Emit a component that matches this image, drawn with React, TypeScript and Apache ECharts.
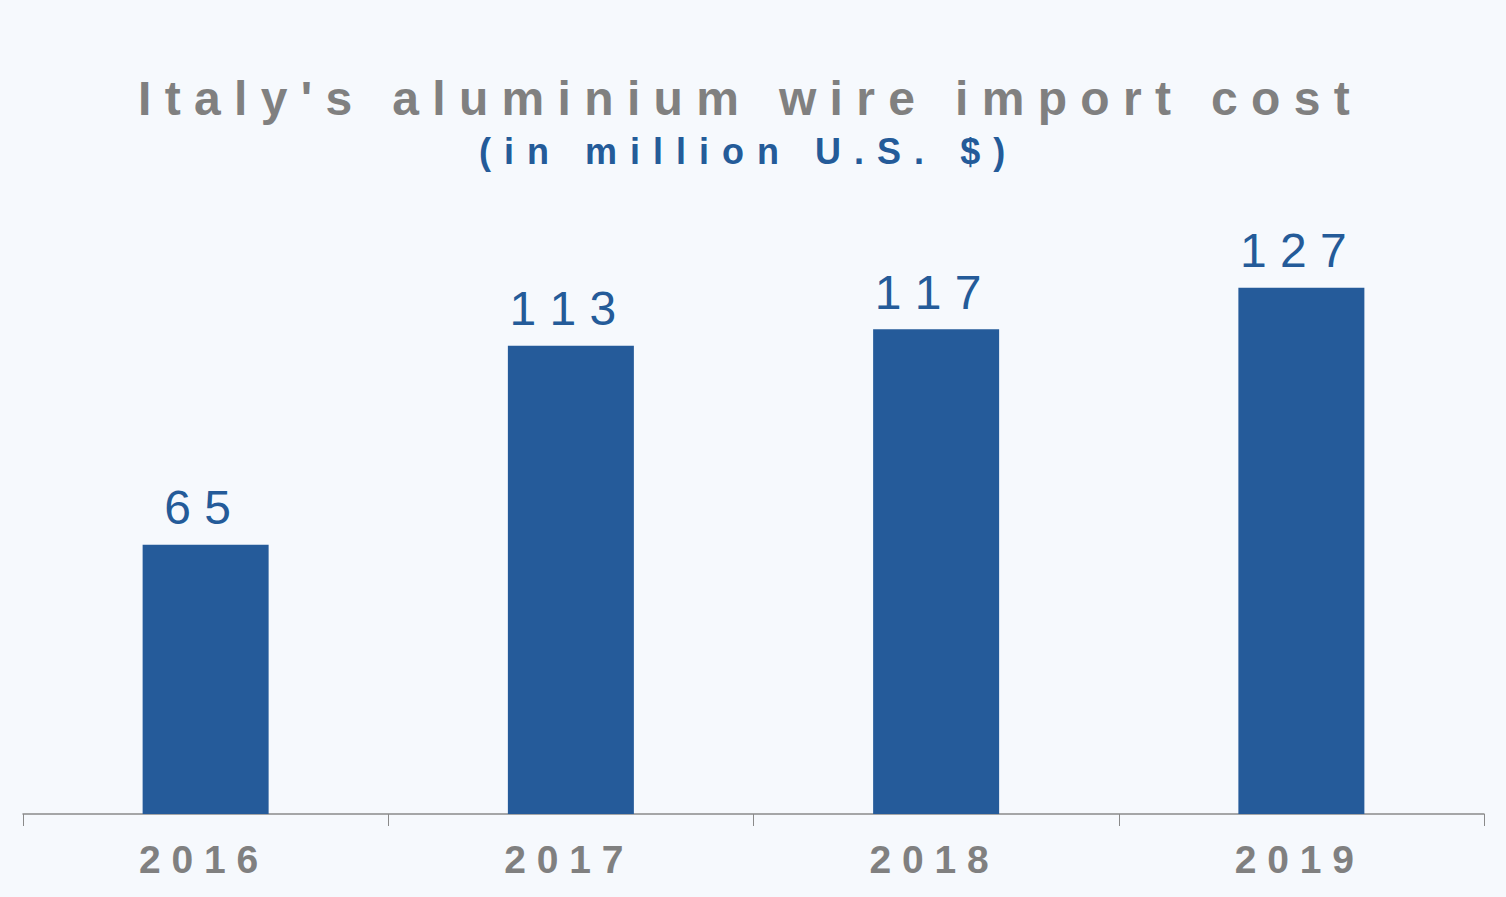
import React, { useEffect, useRef } from "react";
import * as echarts from "echarts";

const categories = ["2016", "2017", "2018", "2019"];
const values = [65, 113, 117, 127];
const titleText = "Italy's aluminium wire import cost";
const subtitleText = "(in million U.S. $)";

const spaced = (s: string, sep = " ") => s.split("").join(sep);
const FONT = "Liberation Sans, Arial, sans-serif";

export default function App() {
  const ref = useRef<HTMLDivElement>(null);
  useEffect(() => {
    if (!ref.current) return;
    const chart = echarts.init(ref.current, null, { renderer: "svg" });
    chart.setOption({
      animation: false,
      backgroundColor: "#f6f9fd",
      title: [
        {
          text: spaced(titleText),
          left: 133,
          top: 69,
          textStyle: {
            fontFamily: FONT,
            fontSize: 48,
            fontWeight: "bold",
            color: "#808080",
          },
        },
        {
          text: spaced(subtitleText, " \u200A"),
          left: 474,
          top: 128,
          textStyle: {
            fontFamily: FONT,
            fontSize: 36,
            fontWeight: "bold",
            color: "#245b99",
          },
        },
      ],
      grid: { left: 23, right: 22, top: 234, bottom: 83, containLabel: false },
      xAxis: {
        type: "category",
        data: categories,
        axisLine: { lineStyle: { color: "#8a8a8a", width: 1.5 } },
        axisTick: { show: true, length: 12, lineStyle: { color: "#8a8a8a", width: 1 } },
        axisLabel: {
          margin: 26,
          fontFamily: FONT,
          fontSize: 39,
          fontWeight: "bold",
          color: "#808080",
          padding: [0, 14, 0, 0],
          formatter: (v: string) => spaced(v),
        },
      },
      yAxis: {
        type: "value",
        min: 0,
        max: 140,
        show: false,
        splitLine: { show: false },
      },
      series: [
        {
          type: "bar",
          data: values,
          barWidth: 126,
          itemStyle: { color: "#255b9a" },
          label: {
            show: true,
            position: "top",
            distance: 13,
            offset: [-8, 0],
            fontFamily: FONT,
            fontSize: 48,
            color: "#245b99",
            formatter: (p: any) => spaced(String(p.value)),
          },
        },
      ],
    });
    return () => chart.dispose();
  }, []);
  return (
    <div
      ref={ref}
      style={{ position: "fixed", left: 0, top: 0, width: 1506, height: 897 }}
    />
  );
}
